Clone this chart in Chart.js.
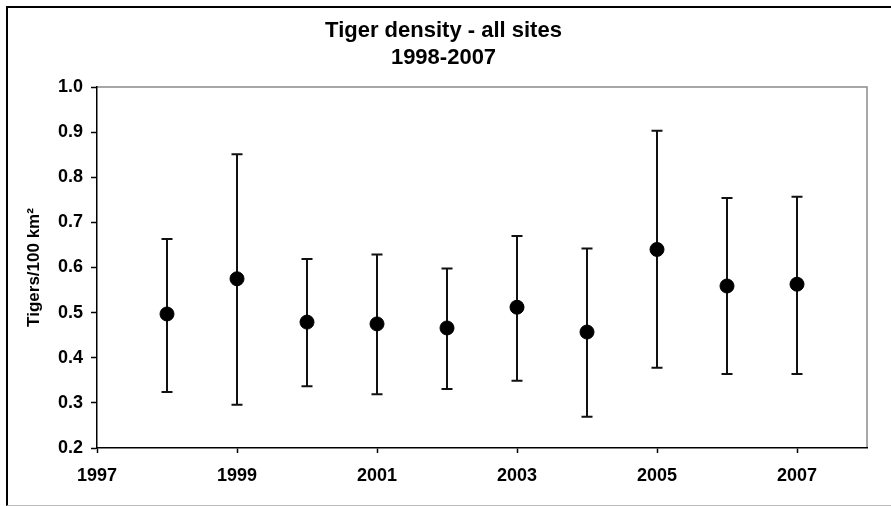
<!DOCTYPE html>
<html>
<head>
<meta charset="utf-8">
<script src="https://cdn.jsdelivr.net/npm/chart.js@4/dist/chart.umd.min.js"></script>
<style>
  html, body { margin: 0; padding: 0; background: #fff; }
  #wrap { position: relative; width: 891px; height: 506px; }
  #frame { position: absolute; left: 6px; top: 6px; width: 900px; height: 497px;
           border-left: 2px solid #000; border-top: 2px solid #000; border-bottom: 1px solid #bbb; }
  canvas { position: absolute; left: 0; top: 0; }
</style>
</head>
<body>
<div id="wrap">
  <div id="frame"></div>
  <canvas id="c" width="891" height="506"></canvas>
</div>
<script>
const years   = [1998, 1999, 2000, 2001, 2002, 2003, 2004, 2005, 2006, 2007];
const density = [0.497, 0.575, 0.479, 0.475, 0.466, 0.512, 0.457, 0.640, 0.559, 0.563];
const upper   = [0.663, 0.851, 0.619, 0.629, 0.598, 0.670, 0.642, 0.903, 0.754, 0.757];
const lower   = [0.324, 0.296, 0.337, 0.319, 0.331, 0.349, 0.269, 0.378, 0.364, 0.364];
const xTicks  = [1997, 1999, 2001, 2003, 2005, 2007];
const yTicks  = [0.2, 0.3, 0.4, 0.5, 0.6, 0.7, 0.8, 0.9, 1.0];

const FONT = '"Liberation Sans", Arial, sans-serif';

const errorBars = {
  id: 'errorBars',
  beforeDatasetsDraw(chart) {
    const ctx = chart.ctx, xs = chart.scales.x, ys = chart.scales.y;
    ctx.save();
    ctx.strokeStyle = '#111';
    ctx.lineWidth = 2;
    years.forEach((yr, i) => {
      const x = xs.getPixelForValue(yr);
      const yU = ys.getPixelForValue(upper[i]);
      const yL = ys.getPixelForValue(lower[i]);
      ctx.beginPath();
      ctx.moveTo(x, yU); ctx.lineTo(x, yL);
      ctx.moveTo(x - 5.5, yU); ctx.lineTo(x + 5.5, yU);
      ctx.moveTo(x - 5.5, yL); ctx.lineTo(x + 5.5, yL);
      ctx.stroke();
    });
    ctx.restore();
  }
};

const plotFrame = {
  id: 'plotFrame',
  beforeDraw(chart) {
    const a = chart.chartArea, ctx = chart.ctx;
    ctx.save();
    ctx.strokeStyle = '#8a8a8a';
    ctx.lineWidth = 1.5;
    ctx.beginPath();
    ctx.moveTo(a.left, a.top); ctx.lineTo(a.right, a.top); ctx.lineTo(a.right, a.bottom);
    ctx.stroke();
    ctx.restore();
  }
};

new Chart(document.getElementById('c'), {
  type: 'scatter',
  data: {
    datasets: [{
      data: years.map((y, i) => ({ x: y, y: density[i] })),
      backgroundColor: '#000',
      borderColor: '#000',
      pointRadius: 7,
      pointHoverRadius: 7
    }]
  },
  options: {
    responsive: false,
    animation: false,
    events: [],
    layout: { padding: { left: 20, right: 24, top: 0, bottom: 0 } },
    plugins: {
      legend: { display: false },
      tooltip: { enabled: false },
      title: {
        display: true,
        text: ['Tiger density - all sites', '1998-2007'],
        color: '#000',
        font: { family: FONT, size: 22, weight: 'bold', lineHeight: '26.7px' },
        padding: { top: 18, bottom: 15.6 }
      }
    },
    scales: {
      x: {
        type: 'linear',
        min: 1997, max: 2008,
        afterBuildTicks(s) { s.ticks = xTicks.map(v => ({ value: v })); },
        afterFit(s) { s.height = 58; },
        grid: { drawOnChartArea: false, drawTicks: true, tickLength: 5, tickColor: '#000', tickWidth: 1.5 },
        border: { display: true, color: '#000', width: 1.5 },
        ticks: {
          color: '#000', padding: 12, maxRotation: 0,
          font: { family: FONT, size: 18, weight: 'bold' },
          callback: v => String(v)
        }
      },
      y: {
        min: 0.2, max: 1.0,
        afterBuildTicks(s) { s.ticks = yTicks.map(v => ({ value: v })); },
        afterFit(s) { s.width = 77; },
        grid: { drawOnChartArea: false, drawTicks: true, tickLength: 6, tickColor: '#000', tickWidth: 1.5 },
        border: { display: true, color: '#000', width: 1.5 },
        ticks: {
          color: '#000', padding: 8,
          font: { family: FONT, size: 18, weight: 'bold' },
          callback: v => Number(v).toFixed(1)
        },
        title: {
          display: true,
          text: 'Tigers/100 km²',
          color: '#000',
          font: { family: FONT, size: 17, weight: 'bold' },
          padding: { top: 4, bottom: 0 }
        }
      }
    }
  },
  plugins: [plotFrame, errorBars]
});
</script>
</body>
</html>
